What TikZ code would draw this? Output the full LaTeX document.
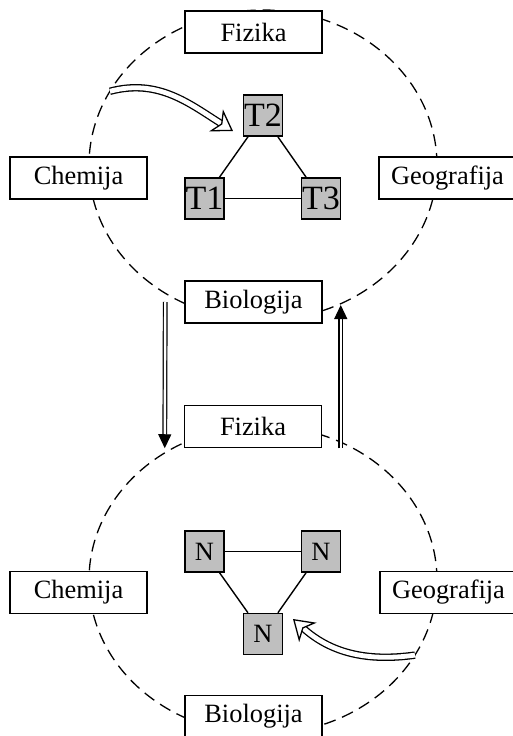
\documentclass[tikz,border=0pt]{standalone}
\usepackage{fontspec}
\setmainfont{Liberation Serif}
\usetikzlibrary{arrows.meta,positioning,shapes,calc}
\pgfdeclarelayer{bg}
\pgfsetlayers{bg,main}

\begin{document}
\begin{tikzpicture}[x=0.5pt,y=0.5pt,
	subject/.style={rectangle,draw,fill=white,line width=.75pt,inner sep=0pt,
		minimum width=68.5pt,minimum height=21pt,font=\fontsize{13.2}{15}\selectfont},
	topic/.style={rectangle,draw,fill=gray!50,line width=.75pt,inner sep=0pt,
		minimum width=19.5pt,minimum height=20.5pt},
	link/.style={line width=.7pt},
	orbit/.style={dash pattern=on 6pt off 3.5pt,line width=.65pt},
	hollow/.style={line width=.65pt,double,double distance=2.4pt,
		-{Stealth[open,fill=white,length=10pt,width=13pt,inset=3pt]}},
	pass/.style={line width=.6pt,double,double distance=1.2pt,
		-{Triangle[length=7pt,width=6.5pt]}}]

    \useasboundingbox (0,0) rectangle (513,736);

    % upper circle
    \coordinate (C1) at (263,571);
    \node[subject] (F1) at (253.5,704) {Fizika};
    \node[subject] (Ch1) at (78.5,558) {Chemija};
    \node[subject] (G1) at (447.5,558) {Geografija};
    \node[subject] (B1) at (253.5,434) {Biologija};
    \node[topic,font=\fontsize{17}{17}\selectfont] (T2) at (263,620.5) {T2};
    \node[topic,font=\fontsize{17}{17}\selectfont] (T1) at (204.5,537.5) {T1};
    \node[topic,font=\fontsize{17}{17}\selectfont] (T3) at (321,537.5) {T3};

    % lower circle
    \coordinate (C2) at (263,156);
    \node[subject] (F2) at (253,309.5) {Fizika};
    \node[subject] (Ch2) at (78.5,143.5) {Chemija};
    \node[subject] (G2) at (448.5,143.5) {Geografija};
    \node[subject] (B2) at (253.5,19.5) {Biologija};
    \node[topic,font=\fontsize{13.2}{15}\selectfont] (N1) at (204.5,184.5) {N};
    \node[topic,font=\fontsize{13.2}{15}\selectfont] (N2) at (321,184.5) {N};
    \node[topic,font=\fontsize{13.2}{15}\selectfont] (N3) at (263,102) {N};

    \begin{pgfonlayer}{bg}
    \draw[orbit] (C1) ellipse [x radius=174, y radius=155];
    \draw[orbit] (C2) ellipse [x radius=174, y radius=154];
    \end{pgfonlayer}

	\path[link]
	(T1) edge (T2)
	(T2) edge (T3)
	(T1) edge (T3)
	(N1) edge (N2)
	(N1) edge (N3)
	(N2) edge (N3);

    \coordinate (e1) at ($(C1)+(151.6:174 and 155)$);
    \coordinate (k1) at (233,605);
    \coordinate (e2) at ($(C2)+(-29.2:174 and 154)$);
    \coordinate (k2) at (293,117);
    \draw[hollow] (e1) to[out=15,in=148] (k1);
    \draw[hollow] (e2) to[out=188,in=-42] (k2);

    \coordinate (d1) at ($(B1.west)+(-19,0)$);
    \coordinate (d2) at ($(F2.south west)+(-19,0)$);
    \coordinate (u1) at ($(F2.south east)+(18.5,0)$);
    \coordinate (u2) at ($(B1.east)+(18,-3)$);
    \draw[pass] (d1) -- (d2);
    \draw[pass] (u1) -- (u2);

\end{tikzpicture}
\end{document}
